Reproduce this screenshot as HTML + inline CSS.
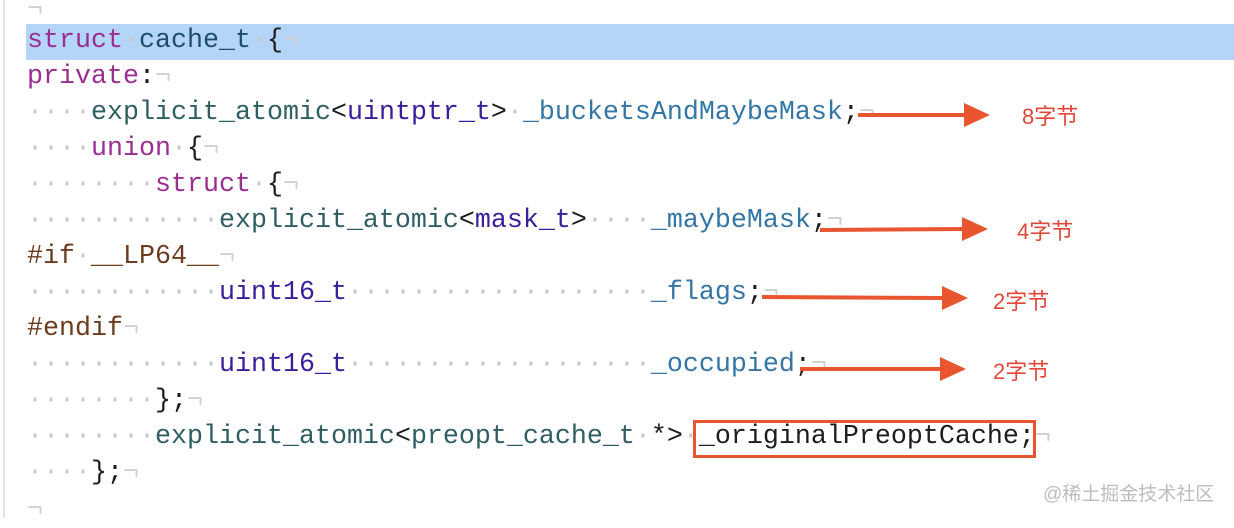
<!DOCTYPE html>
<html><head><meta charset="utf-8"><style>
body{margin:0;width:1234px;height:518px;background:#fff;position:relative;overflow:hidden}
.bl{position:absolute;left:3px;top:0;width:2px;height:518px;background:#e4e4e4}
.hl{position:absolute;left:26px;top:24px;width:1208px;height:36px;background:#b4d5f7}
.l{position:absolute;left:27px;height:36px;line-height:36px;font-family:"Liberation Mono",monospace;font-size:26.67px;color:#1d1d1d;white-space:pre}
.d{color:#c8c8c8}.n{color:#d0d0d0}
.k{color:#9b2f91}.t{color:#2f5e63}.u{color:#3c1e9c}.v{color:#3476a6}.p{color:#6b3c1e}.c{color:#1f4e6b}
.lab{position:absolute;font-family:"Liberation Sans","Noto Sans CJK SC",sans-serif;font-size:22px;color:#e2483a}
.box{position:absolute;left:693px;top:420px;width:337px;height:32px;border:3px solid #e8552e}
.wm{position:absolute;left:1043px;top:479px;font-family:"Liberation Sans","Noto Sans CJK SC",sans-serif;font-size:19px;color:#bdbdbd}
</style></head><body>
<div class="bl"></div>
<div class="hl"></div>
<div class="l" style="top:-8px"><span class="n">¬</span></div>
<div class="l" style="top:23px"><span class="k">struct</span><span class="d">·</span><span class="c">cache_t</span><span class="d">·</span>{<span class="n">¬</span></div>
<div class="l" style="top:59px"><span class="k">private</span>:<span class="n">¬</span></div>
<div class="l" style="top:95px"><span class="d">····</span><span class="t">explicit_atomic</span>&lt;<span class="u">uintptr_t</span>&gt;<span class="d">·</span><span class="v">_bucketsAndMaybeMask</span>;<span class="n">¬</span></div>
<div class="l" style="top:131px"><span class="d">····</span><span class="k">union</span><span class="d">·</span>{<span class="n">¬</span></div>
<div class="l" style="top:167px"><span class="d">········</span><span class="k">struct</span><span class="d">·</span>{<span class="n">¬</span></div>
<div class="l" style="top:203px"><span class="d">············</span><span class="t">explicit_atomic</span>&lt;<span class="u">mask_t</span>&gt;<span class="d">····</span><span class="v">_maybeMask</span>;<span class="n">¬</span></div>
<div class="l" style="top:239px"><span class="p">#if</span><span class="d">·</span><span class="p">__LP64__</span><span class="n">¬</span></div>
<div class="l" style="top:275px"><span class="d">············</span><span class="u">uint16_t</span><span class="d">···················</span><span class="v">_flags</span>;<span class="n">¬</span></div>
<div class="l" style="top:311px"><span class="p">#endif</span><span class="n">¬</span></div>
<div class="l" style="top:347px"><span class="d">············</span><span class="u">uint16_t</span><span class="d">···················</span><span class="v">_occupied</span>;<span class="n">¬</span></div>
<div class="l" style="top:383px"><span class="d">········</span>};<span class="n">¬</span></div>
<div class="l" style="top:419px"><span class="d">········</span><span class="t">explicit_atomic</span>&lt;<span class="t">preopt_cache_t</span><span class="d">·</span>*&gt;<span class="d">·</span>_originalPreoptCache;<span class="n">¬</span></div>
<div class="l" style="top:455px"><span class="d">····</span>};<span class="n">¬</span></div>
<div class="l" style="top:492px"><span class="n">¬</span></div>
<div class="box"></div>
<svg style="position:absolute;left:0;top:0" width="1234" height="518">
<g fill="#e8552e" stroke="#e8552e" stroke-width="4">
<line x1="858" y1="115" x2="968" y2="115"/><polygon stroke="none" points="964,103 990,115 964,127"/>
<line x1="820" y1="230" x2="966" y2="229"/><polygon stroke="none" points="962,217 988,229 962,241"/>
<line x1="762" y1="297" x2="946" y2="298"/><polygon stroke="none" points="942,286 968,298 942,310"/>
<line x1="800" y1="369" x2="944" y2="369"/><polygon stroke="none" points="940,357 966,369 940,381"/>
</g></svg>
<div class="lab" style="left:1022px;top:99px">8字节</div>
<div class="lab" style="left:1017px;top:214px">4字节</div>
<div class="lab" style="left:993px;top:284px">2字节</div>
<div class="lab" style="left:993px;top:354px">2字节</div>
<div class="wm">@稀土掘金技术社区</div>
</body></html>
